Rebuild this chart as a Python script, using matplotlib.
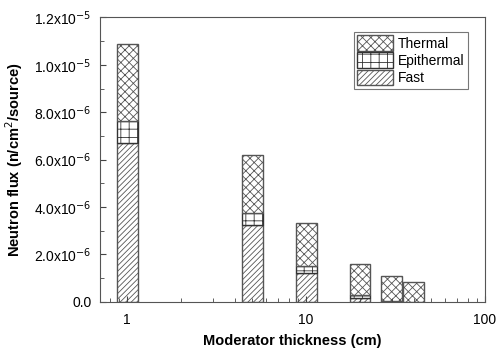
import matplotlib
matplotlib.use('Agg')
import matplotlib.pyplot as plt
import numpy as np
from matplotlib.ticker import FixedLocator, FuncFormatter

plt.rcParams['font.family'] = ['Liberation Sans', 'DejaVu Sans']
plt.rcParams['hatch.linewidth'] = 0.6
plt.rcParams['hatch.color'] = '#777777'

# data
thickness = [1, 5, 10, 20, 30, 40]          # cm
fast = [6.72e-6, 3.23e-6, 1.23e-6, 0.18e-6, 0.01e-6, 0.005e-6]
epithermal = [0.91e-6, 0.50e-6, 0.30e-6, 0.10e-6, 0.02e-6, 0.01e-6]
thermal = [3.23e-6, 2.45e-6, 1.81e-6, 1.33e-6, 1.05e-6, 0.83e-6]

fig = plt.figure(figsize=(4.98, 3.49), dpi=100)
ax = fig.add_axes([0.2, 0.135, 0.774, 0.815])

x = np.array(thickness, dtype=float)
half = 10 ** 0.0585
left = x / half
width = x * half - left
fast = np.array(fast)
epi = np.array(epithermal)
th = np.array(thermal)

ec = '#555555'
ax.bar(left, fast, width=width, align='edge', color='white', edgecolor=ec,
       hatch='//////', linewidth=1.0, label='Fast')
ax.bar(left, epi, width=width, bottom=fast, align='edge', color='white', edgecolor='#333333',
       hatch='++', linewidth=1.0, label='Epithermal')
ax.bar(left, th, width=width, bottom=fast + epi, align='edge', color='white', edgecolor=ec,
       hatch='xxxx', linewidth=1.0, label='Thermal')

ax.set_xscale('log')
ax.set_xlim(0.7, 100)
ax.set_ylim(0, 1.2e-5)

ax.set_xticks([1, 10, 100])
ax.set_xticklabels(['1', '10', '100'])

yt = [0, 2e-6, 4e-6, 6e-6, 8e-6, 1e-5, 1.2e-5]
ax.yaxis.set_major_locator(FixedLocator(yt))
ax.yaxis.set_minor_locator(FixedLocator(np.arange(1e-6, 1.2e-5, 2e-6)))


def fmt(v, pos):
    if v == 0:
        return '0.0'
    e = int(np.floor(np.log10(v) + 1e-9))
    m = v / 10 ** e
    return r'%.1fx10$^{%d}$' % (m, e)


ax.yaxis.set_major_formatter(FuncFormatter(fmt))
ax.tick_params(which='both', direction='in', labelsize=10, color='#444444')
ax.tick_params(which='major', length=4)
ax.tick_params(which='minor', length=3)
ax.tick_params(axis='x', pad=8)
ax.tick_params(axis='y', pad=6)
for s in ax.spines.values():
    s.set_color('#555555')

ax.set_xlabel('Moderator thickness (cm)', fontweight='bold', fontsize=10.5, labelpad=5)
ax.set_ylabel(r'Neutron flux (n/cm$^2$/source)', fontweight='bold', fontsize=10.5, labelpad=6)

h, l = ax.get_legend_handles_labels()
leg = ax.legend(h[::-1], l[::-1], loc='upper right', bbox_to_anchor=(0.955, 0.95),
                fontsize=10, frameon=True, fancybox=False, edgecolor='#555555',
                handlelength=2.6, handleheight=1.35, handletextpad=0.3,
                labelspacing=0.12, borderpad=0.25, borderaxespad=0)
leg.get_frame().set_linewidth(0.8)

fig.savefig('out.png', dpi=100)
